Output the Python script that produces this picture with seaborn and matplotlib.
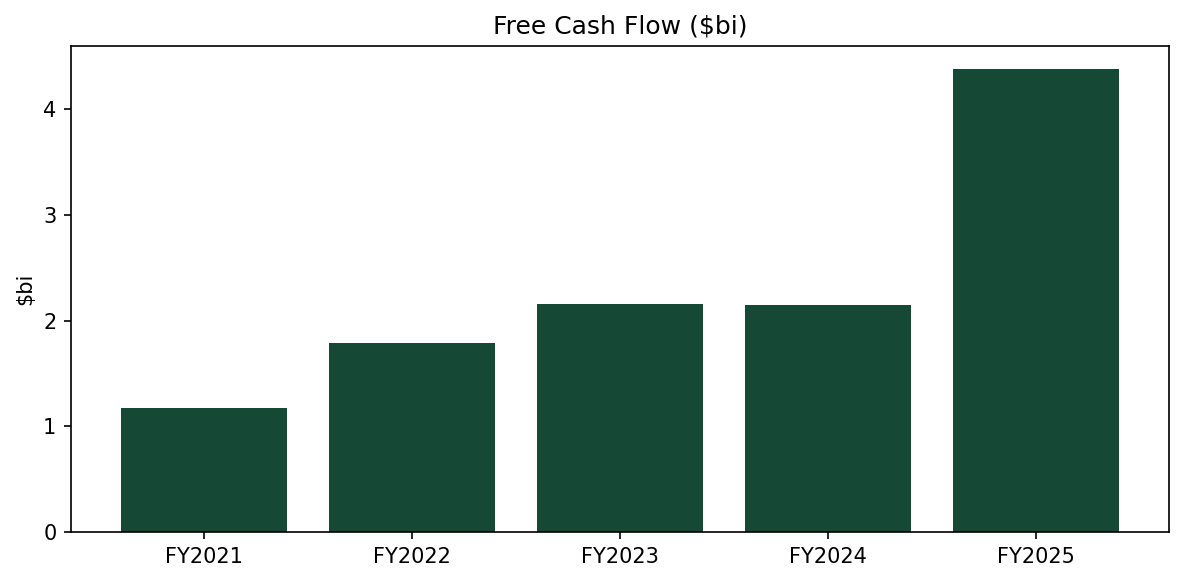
import matplotlib
matplotlib.use("Agg")
import matplotlib.pyplot as plt
import seaborn as sns
import pandas as pd

# Values
years = ['FY2021', 'FY2022', 'FY2023', 'FY2024', 'FY2025']
fcf = [1.175, 1.79, 2.16, 2.15, 4.38]

df = pd.DataFrame({'Year': years, 'FCF': fcf})

fig, ax = plt.subplots(figsize=(1183 / 150, 582 / 150), dpi=150)
sns.barplot(x='Year', y='FCF', data=df, color='#154835', saturation=1, width=0.8, ax=ax)

ax.set_xlim(-0.64, 4.64)
ax.set_ylim(0, max(fcf) * 1.05)
ax.set_xlabel('')
ax.set_ylabel('$bi')
ax.set_title('Free Cash Flow ($bi)')

fig.subplots_adjust(left=0.060, right=0.988, top=0.921, bottom=0.086)
plt.savefig('out.png', dpi=150)
